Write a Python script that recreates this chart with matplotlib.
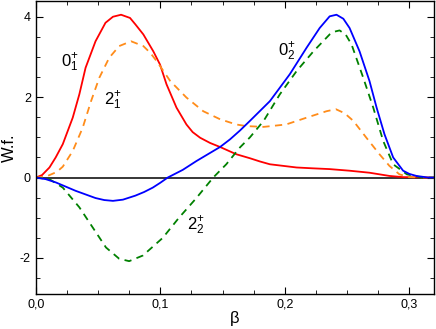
import matplotlib
matplotlib.use("Agg")
import matplotlib.pyplot as plt
from matplotlib.ticker import MultipleLocator, FuncFormatter

plt.rcParams['font.family'] = ['Liberation Sans', 'DejaVu Sans']
plt.rcParams['mathtext.fontset'] = 'custom'
plt.rcParams['mathtext.rm'] = 'Liberation Sans'
plt.rcParams['mathtext.it'] = 'Liberation Sans'

# 0_1^+  (rojo)
b_01 = [0, 0.005, 0.011, 0.016, 0.0217, 0.0297, 0.035, 0.040, 0.048, 0.056, 0.062, 0.0685,
        0.0757, 0.080, 0.0864, 0.0944, 0.0998, 0.105, 0.113, 0.121, 0.126, 0.132, 0.14,
        0.148, 0.161, 0.172, 0.18, 0.188, 0.2095, 0.222, 0.236, 0.252, 0.268, 0.284,
        0.295, 0.32]
w_01 = [0, 0.06, 0.25, 0.5, 0.83, 1.49, 2.07, 2.73, 3.39, 3.85, 4.0, 4.05,
        3.97, 3.81, 3.56, 3.14, 2.81, 2.32, 1.74, 1.32, 1.13, 0.99, 0.86,
        0.76, 0.58, 0.48, 0.4, 0.33, 0.25, 0.23, 0.21, 0.17, 0.12, 0.04,
        0.01, 0]

# 2_1^+  (naranja, discontinua)
b_21 = [0, 0.008, 0.0169, 0.0217, 0.0297, 0.0377, 0.0444, 0.051, 0.059, 0.067, 0.0765,
        0.0864, 0.092, 0.097, 0.108, 0.121, 0.1345, 0.148, 0.161, 0.169, 0.183, 0.201,
        0.2175, 0.2335, 0.241, 0.248, 0.255, 0.2655, 0.276, 0.284, 0.292, 0.30, 0.32]
w_21 = [0, 0.02, 0.14, 0.27, 0.66, 1.24, 1.90, 2.48, 2.98, 3.27, 3.39,
        3.27, 3.1, 2.90, 2.40, 1.99, 1.65, 1.45, 1.32, 1.28, 1.26, 1.32,
        1.49, 1.65, 1.70, 1.6, 1.41, 0.99, 0.58, 0.29, 0.08, 0.01, 0]

# 0_2^+  (azul)
b_02 = [0, 0.008, 0.016, 0.032, 0.048, 0.055, 0.062, 0.07, 0.080, 0.087, 0.094, 0.1,
        0.106, 0.118, 0.129, 0.148, 0.156, 0.164, 0.172, 0.188, 0.204, 0.2175, 0.228,
        0.236, 0.2415, 0.247, 0.252, 0.260, 0.268, 0.2737, 0.280, 0.287, 0.295, 0.30,
        0.3057, 0.315, 0.32]
w_02 = [0, -0.04, -0.12, -0.33, -0.51, -0.56, -0.58, -0.55, -0.45, -0.36, -0.25, -0.13,
        0, 0.19, 0.41, 0.76, 0.95, 1.17, 1.41, 1.90, 2.57, 3.23, 3.72,
        4.01, 4.05, 3.95, 3.72, 3.14, 2.40, 1.74, 1.08, 0.50, 0.17, 0.09,
        0.04, 0, 0]

# 2_2^+  (verde, discontinua)
b_22 = [0, 0.011, 0.0217, 0.035, 0.0457, 0.0564, 0.067, 0.075, 0.086, 0.102, 0.115,
        0.1287, 0.1425, 0.153, 0.164, 0.172, 0.183, 0.196, 0.2095, 0.223, 0.236, 0.24,
        0.244, 0.249, 0.2536, 0.263, 0.271, 0.279, 0.287, 0.298, 0.31, 0.32]
w_22 = [0, -0.04, -0.25, -0.74, -1.24, -1.74, -2.02, -2.08, -1.94, -1.5, -1.0,
        -0.52, 0, 0.33, 0.75, 1.0, 1.41, 2.07, 2.65, 3.14, 3.56, 3.63,
        3.66, 3.55, 3.31, 2.48, 1.74, 0.91, 0.33, 0.08, 0, 0]

etiquetas = [r'$0^{+}_{1}$', r'$2^{+}_{1}$', r'$0^{+}_{2}$', r'$2^{+}_{2}$']
pos_etiq = [(0.0275, 2.85), (0.062, 1.9), (0.2015, 3.14), (0.1288, -1.2)]

fig = plt.figure(figsize=(4.36, 3.29), dpi=100)
ax = fig.add_axes([0.082, 0.106, 0.914, 0.892])

ax.axhline(0, color='k', lw=1.1, zorder=1)
ax.plot(b_01, w_01, color='#ff0000', lw=1.3)
ax.plot(b_21, w_21, color='#ff8c1a', lw=1.3, dashes=(4, 3))
ax.plot(b_22, w_22, color='#008000', lw=1.3, dashes=(4, 3))
ax.plot(b_02, w_02, color='#0000ff', lw=1.3)

for txt, (x, y) in zip(etiquetas, pos_etiq):
    ax.text(x, y, txt, fontsize=12, ha='center', va='center')

ax.set_xlim(0, 0.32)
ax.set_ylim(-2.9, 4.4)
ax.xaxis.set_major_locator(MultipleLocator(0.1))
ax.xaxis.set_minor_locator(MultipleLocator(0.025))
ax.yaxis.set_major_locator(MultipleLocator(2))
ax.yaxis.set_minor_locator(MultipleLocator(0.5))
coma = FuncFormatter(lambda v, p: ('%.1f' % v).replace('.', ','))
ax.xaxis.set_major_formatter(coma)
ax.yaxis.set_major_formatter(FuncFormatter(lambda v, p: '%d' % round(v)))
ax.tick_params(which='both', direction='in', top=True, right=True, labelsize=9)
ax.tick_params(which='major', length=5)
ax.tick_params(which='minor', length=3)
for s in ax.spines.values():
    s.set_linewidth(1.0)

ax.set_xlabel('β', fontsize=12, labelpad=0)
ax.set_ylabel('W.f.', fontsize=12, labelpad=2)

fig.savefig('out.png', dpi=100)
